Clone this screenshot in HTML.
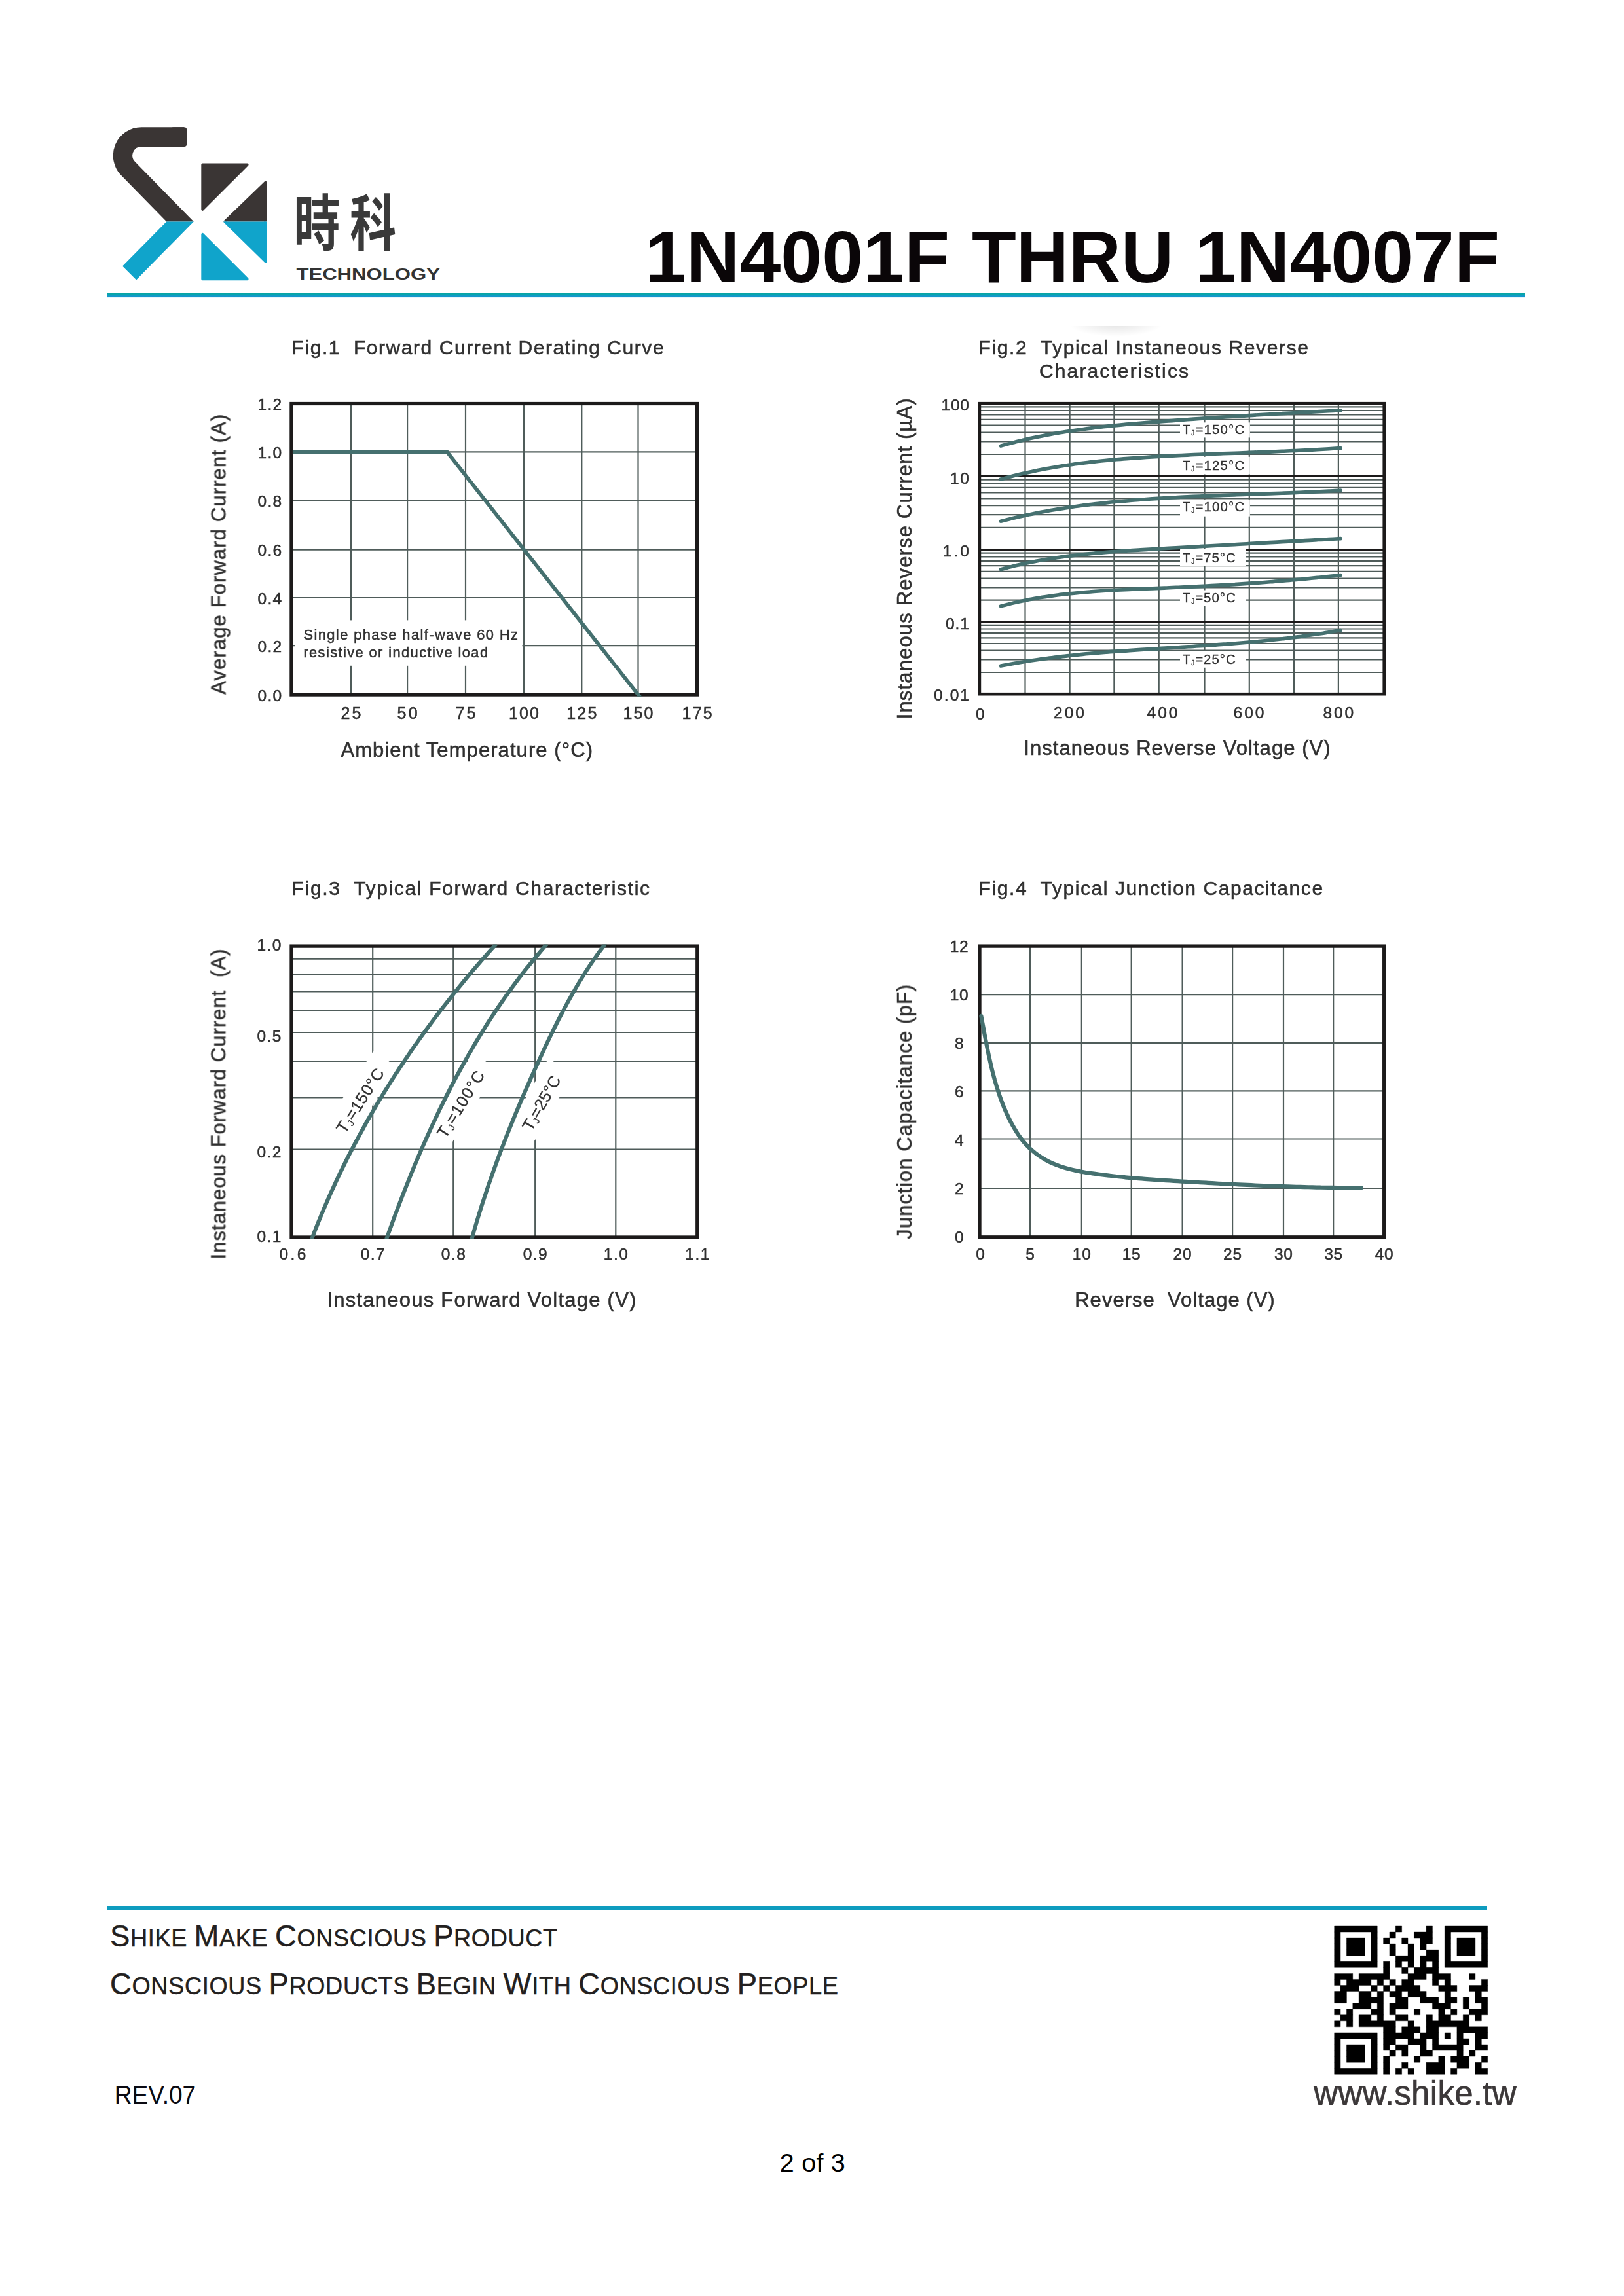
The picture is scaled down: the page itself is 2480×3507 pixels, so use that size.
<!DOCTYPE html>
<html lang="en"><head><meta charset="utf-8"><title>1N4001F THRU 1N4007F</title>
<style>
html,body{margin:0;padding:0;background:#fff}
svg{display:block}
text{font-family:"Liberation Sans", sans-serif;fill:#303030}
.c text{stroke:#303030;stroke-width:.55px}
</style></head><body>
<svg width="2480" height="3507" viewBox="0 0 2480 3507">
<rect width="2480" height="3507" fill="#fff"/>
<defs><clipPath id="ctop"><rect x="150" y="180" width="300" height="158.5"/></clipPath><clipPath id="cbot"><rect x="150" y="338.5" width="300" height="120"/></clipPath></defs>
<g clip-path="url(#ctop)"><path d="M281,209.1 L216,209.1 A28.5,28.5 0 0 0 195.9,257.8 L275,338.5 L197.6,417" fill="none" stroke="#3a3534" stroke-width="29.6" stroke-linejoin="miter" stroke-miterlimit="10"/><rect x="261" y="194.3" width="24.2" height="29.6" rx="4" fill="#3a3534"/><g fill="#3a3534" stroke="#3a3534" stroke-width="4" stroke-linejoin="round"><polygon points="309.3,251.6 377.6,251.6 309.3,319.9"/><polygon points="405.4,278.6 405.4,399.4 343.4,338.5"/><polygon points="309.3,357.8 309.3,426.2 377.6,426.2"/></g></g>
<g clip-path="url(#cbot)"><path d="M281,209.1 L216,209.1 A28.5,28.5 0 0 0 195.9,257.8 L275,338.5 L197.6,417" fill="none" stroke="#10a4cb" stroke-width="29.6" stroke-linejoin="miter" stroke-miterlimit="10"/><rect x="261" y="194.3" width="24.2" height="29.6" rx="4" fill="#10a4cb"/><g fill="#10a4cb" stroke="#10a4cb" stroke-width="4" stroke-linejoin="round"><polygon points="309.3,251.6 377.6,251.6 309.3,319.9"/><polygon points="405.4,278.6 405.4,399.4 343.4,338.5"/><polygon points="309.3,357.8 309.3,426.2 377.6,426.2"/></g></g>
<text transform="translate(448.4,375.2) scale(0.758,1)" font-size="93.5" font-weight="700" letter-spacing="19.9" style="font-family:'Liberation Sans','Noto Sans CJK TC',sans-serif;fill:#3a3a3a">時科</text>
<text x="452.4" y="427.1" font-size="23.2" textLength="219.5" lengthAdjust="spacingAndGlyphs" style="fill:#333" font-weight="700">TECHNOLOGY</text>
<text y="431" font-size="110.5" font-weight="700" style="fill:#0a0608"><tspan x="985" textLength="465" lengthAdjust="spacingAndGlyphs">1N4001F</tspan> <tspan x="1484" textLength="308" lengthAdjust="spacingAndGlyphs">THRU</tspan> <tspan x="1825" textLength="465" lengthAdjust="spacingAndGlyphs">1N4007F</tspan></text>
<defs><linearGradient id="hl" x1="0" y1="0" x2="0" y2="1"><stop offset="0" stop-color="#04a3a0"/><stop offset=".35" stop-color="#0aa5ac"/><stop offset=".7" stop-color="#1397cc"/><stop offset="1" stop-color="#1698cd"/></linearGradient></defs>
<rect x="163" y="447.2" width="2166" height="6.9" fill="url(#hl)"/>
<defs><filter id="soft" x="0" y="0" width="100%" height="100%" filterUnits="userSpaceOnUse" color-interpolation-filters="sRGB"><feGaussianBlur stdDeviation="0.75"/></filter></defs>
<g class="c" filter="url(#soft)">
<line x1="536.0" y1="616.5" x2="536.0" y2="1061.1" stroke="#4f5c5a" stroke-width="2.2"/>
<line x1="622.1" y1="616.5" x2="622.1" y2="1061.1" stroke="#4f5c5a" stroke-width="2.2"/>
<line x1="711.0" y1="616.5" x2="711.0" y2="1061.1" stroke="#4f5c5a" stroke-width="2.2"/>
<line x1="800.0" y1="616.5" x2="800.0" y2="1061.1" stroke="#4f5c5a" stroke-width="2.2"/>
<line x1="888.3" y1="616.5" x2="888.3" y2="1061.1" stroke="#4f5c5a" stroke-width="2.2"/>
<line x1="974.5" y1="616.5" x2="974.5" y2="1061.1" stroke="#4f5c5a" stroke-width="2.2"/>
<line x1="444.9" y1="690.3" x2="1064.6" y2="690.3" stroke="#4f5c5a" stroke-width="2.2"/>
<line x1="444.9" y1="764.3" x2="1064.6" y2="764.3" stroke="#4f5c5a" stroke-width="2.2"/>
<line x1="444.9" y1="839.7" x2="1064.6" y2="839.7" stroke="#4f5c5a" stroke-width="2.2"/>
<line x1="444.9" y1="913.0" x2="1064.6" y2="913.0" stroke="#4f5c5a" stroke-width="2.2"/>
<line x1="444.9" y1="986.2" x2="1064.6" y2="986.2" stroke="#4f5c5a" stroke-width="2.2"/>
<rect x="450.5" y="947.4" width="347" height="69.4" fill="#fff"/>
<rect x="444.9" y="616.5" width="619.6999999999999" height="444.5999999999999" fill="none" stroke="#1c1a1a" stroke-width="5.2"/>
<clipPath id="c1clip"><rect x="442.29999999999995" y="613.9" width="624.9" height="449.7999999999999"/></clipPath>
<polyline clip-path="url(#c1clip)" points="446.9,690.4 682.8,690.4 978.4,1066" fill="none" stroke="#45706f" stroke-width="5.7" stroke-linejoin="miter"/>
<text x="445.6" y="540.6" font-size="30" textLength="568.0" lengthAdjust="spacing" xml:space="preserve">Fig.1  Forward Current Derating Curve</text>
<text x="393.6" y="626.0" font-size="24.5" textLength="36.5" lengthAdjust="spacing">1.2</text>
<text x="393.6" y="699.8" font-size="24.5" textLength="36.5" lengthAdjust="spacing">1.0</text>
<text x="393.6" y="773.8" font-size="24.5" textLength="36.5" lengthAdjust="spacing">0.8</text>
<text x="393.6" y="849.2" font-size="24.5" textLength="36.5" lengthAdjust="spacing">0.6</text>
<text x="393.6" y="922.5" font-size="24.5" textLength="36.5" lengthAdjust="spacing">0.4</text>
<text x="393.6" y="995.7" font-size="24.5" textLength="36.5" lengthAdjust="spacing">0.2</text>
<text x="393.6" y="1070.6" font-size="24.5" textLength="36.5" lengthAdjust="spacing">0.0</text>
<text x="520.5" y="1097.5" font-size="25" textLength="31.0" lengthAdjust="spacing">25</text>
<text x="606.6" y="1097.5" font-size="25" textLength="31.0" lengthAdjust="spacing">50</text>
<text x="695.5" y="1097.5" font-size="25" textLength="31.0" lengthAdjust="spacing">75</text>
<text x="777.0" y="1097.5" font-size="25" textLength="46.0" lengthAdjust="spacing">100</text>
<text x="865.3" y="1097.5" font-size="25" textLength="46.0" lengthAdjust="spacing">125</text>
<text x="951.5" y="1097.5" font-size="25" textLength="46.0" lengthAdjust="spacing">150</text>
<text x="1041.6" y="1097.5" font-size="25" textLength="46.0" lengthAdjust="spacing">175</text>
<text x="520.4" y="1155.9" font-size="31" textLength="384.6" lengthAdjust="spacing">Ambient Temperature (°C)</text>
<text x="344.3" y="1060.8" font-size="31" textLength="428.0" lengthAdjust="spacing" transform="rotate(-90 344.3 1060.8)">Average Forward Current (A)</text>
<text x="463.4" y="977.4" font-size="21.8" textLength="327.6" lengthAdjust="spacing">Single phase half-wave 60 Hz</text>
<text x="463.4" y="1003.7" font-size="21.8" textLength="281.6" lengthAdjust="spacing">resistive or inductive load</text>
<line x1="1565.5" y1="616.2" x2="1565.5" y2="1060.2" stroke="#4f5c5a" stroke-width="2.2"/>
<line x1="1633.6" y1="616.2" x2="1633.6" y2="1060.2" stroke="#4f5c5a" stroke-width="2.2"/>
<line x1="1701.4" y1="616.2" x2="1701.4" y2="1060.2" stroke="#4f5c5a" stroke-width="2.2"/>
<line x1="1769.7" y1="616.2" x2="1769.7" y2="1060.2" stroke="#4f5c5a" stroke-width="2.2"/>
<line x1="1839.5" y1="616.2" x2="1839.5" y2="1060.2" stroke="#4f5c5a" stroke-width="2.2"/>
<line x1="1907.8" y1="616.2" x2="1907.8" y2="1060.2" stroke="#4f5c5a" stroke-width="2.2"/>
<line x1="1976.0" y1="616.2" x2="1976.0" y2="1060.2" stroke="#4f5c5a" stroke-width="2.2"/>
<line x1="2043.9" y1="616.2" x2="2043.9" y2="1060.2" stroke="#4f5c5a" stroke-width="2.2"/>
<line x1="1495.9" y1="694.0" x2="2113.7" y2="694.0" stroke="#4f5c5a" stroke-width="2.2"/>
<line x1="1495.9" y1="674.4" x2="2113.7" y2="674.4" stroke="#4f5c5a" stroke-width="2.2"/>
<line x1="1495.9" y1="660.5" x2="2113.7" y2="660.5" stroke="#4f5c5a" stroke-width="2.2"/>
<line x1="1495.9" y1="649.7" x2="2113.7" y2="649.7" stroke="#4f5c5a" stroke-width="2.2"/>
<line x1="1495.9" y1="640.9" x2="2113.7" y2="640.9" stroke="#4f5c5a" stroke-width="2.2"/>
<line x1="1495.9" y1="633.4" x2="2113.7" y2="633.4" stroke="#4f5c5a" stroke-width="2.2"/>
<line x1="1495.9" y1="627.0" x2="2113.7" y2="627.0" stroke="#4f5c5a" stroke-width="2.2"/>
<line x1="1495.9" y1="621.3" x2="2113.7" y2="621.3" stroke="#4f5c5a" stroke-width="2.2"/>
<line x1="1495.9" y1="805.9" x2="2113.7" y2="805.9" stroke="#4f5c5a" stroke-width="2.2"/>
<line x1="1495.9" y1="786.2" x2="2113.7" y2="786.2" stroke="#4f5c5a" stroke-width="2.2"/>
<line x1="1495.9" y1="772.1" x2="2113.7" y2="772.1" stroke="#4f5c5a" stroke-width="2.2"/>
<line x1="1495.9" y1="761.3" x2="2113.7" y2="761.3" stroke="#4f5c5a" stroke-width="2.2"/>
<line x1="1495.9" y1="752.4" x2="2113.7" y2="752.4" stroke="#4f5c5a" stroke-width="2.2"/>
<line x1="1495.9" y1="744.9" x2="2113.7" y2="744.9" stroke="#4f5c5a" stroke-width="2.2"/>
<line x1="1495.9" y1="738.4" x2="2113.7" y2="738.4" stroke="#4f5c5a" stroke-width="2.2"/>
<line x1="1495.9" y1="732.6" x2="2113.7" y2="732.6" stroke="#4f5c5a" stroke-width="2.2"/>
<line x1="1495.9" y1="727.5" x2="2113.7" y2="727.5" stroke="#1c1a1a" stroke-width="2.8"/>
<line x1="1495.9" y1="916.7" x2="2113.7" y2="916.7" stroke="#4f5c5a" stroke-width="2.2"/>
<line x1="1495.9" y1="897.3" x2="2113.7" y2="897.3" stroke="#4f5c5a" stroke-width="2.2"/>
<line x1="1495.9" y1="883.5" x2="2113.7" y2="883.5" stroke="#4f5c5a" stroke-width="2.2"/>
<line x1="1495.9" y1="872.8" x2="2113.7" y2="872.8" stroke="#4f5c5a" stroke-width="2.2"/>
<line x1="1495.9" y1="864.1" x2="2113.7" y2="864.1" stroke="#4f5c5a" stroke-width="2.2"/>
<line x1="1495.9" y1="856.8" x2="2113.7" y2="856.8" stroke="#4f5c5a" stroke-width="2.2"/>
<line x1="1495.9" y1="850.4" x2="2113.7" y2="850.4" stroke="#4f5c5a" stroke-width="2.2"/>
<line x1="1495.9" y1="844.7" x2="2113.7" y2="844.7" stroke="#4f5c5a" stroke-width="2.2"/>
<line x1="1495.9" y1="839.7" x2="2113.7" y2="839.7" stroke="#1c1a1a" stroke-width="2.8"/>
<line x1="1495.9" y1="1027.0" x2="2113.7" y2="1027.0" stroke="#4f5c5a" stroke-width="2.2"/>
<line x1="1495.9" y1="1007.5" x2="2113.7" y2="1007.5" stroke="#4f5c5a" stroke-width="2.2"/>
<line x1="1495.9" y1="993.7" x2="2113.7" y2="993.7" stroke="#4f5c5a" stroke-width="2.2"/>
<line x1="1495.9" y1="983.0" x2="2113.7" y2="983.0" stroke="#4f5c5a" stroke-width="2.2"/>
<line x1="1495.9" y1="974.3" x2="2113.7" y2="974.3" stroke="#4f5c5a" stroke-width="2.2"/>
<line x1="1495.9" y1="966.9" x2="2113.7" y2="966.9" stroke="#4f5c5a" stroke-width="2.2"/>
<line x1="1495.9" y1="960.5" x2="2113.7" y2="960.5" stroke="#4f5c5a" stroke-width="2.2"/>
<line x1="1495.9" y1="954.9" x2="2113.7" y2="954.9" stroke="#4f5c5a" stroke-width="2.2"/>
<line x1="1495.9" y1="949.8" x2="2113.7" y2="949.8" stroke="#1c1a1a" stroke-width="2.8"/>
<rect x="1802" y="645.3" width="106.8" height="23.1" fill="#fff"/>
<rect x="1802" y="697.8" width="106.8" height="26.7" fill="#fff"/>
<rect x="1802" y="762.9" width="106.8" height="25.8" fill="#fff"/>
<rect x="1802" y="838.0" width="100.1" height="27.0" fill="#fff"/>
<rect x="1802" y="901.5" width="100.1" height="23.9" fill="#fff"/>
<rect x="1802" y="995" width="100.1" height="24.8" fill="#fff"/>
<path d="M1528.3,681.1 C1531.2,680.3 1539.9,677.9 1545.7,676.3 C1551.5,674.8 1557.4,673.4 1563.2,672.0 C1569.1,670.6 1574.9,669.3 1580.8,668.1 C1586.7,666.8 1592.5,665.6 1598.4,664.5 C1604.3,663.4 1610.2,662.3 1616.1,661.3 C1622.0,660.3 1628.0,659.4 1633.9,658.5 C1639.8,657.6 1645.8,656.7 1651.7,655.9 C1657.6,655.1 1663.6,654.3 1669.6,653.6 C1675.5,652.8 1681.5,652.2 1687.4,651.5 C1693.4,650.8 1699.4,650.2 1705.4,649.6 C1711.3,649.0 1717.3,648.4 1723.3,647.9 C1729.3,647.3 1735.3,646.8 1741.3,646.3 C1747.3,645.8 1753.3,645.3 1759.3,644.8 C1765.3,644.3 1771.3,643.9 1777.3,643.4 C1783.3,642.9 1789.3,642.5 1795.3,642.1 C1801.3,641.6 1807.3,641.2 1813.3,640.7 C1819.3,640.3 1825.3,639.9 1831.3,639.5 C1837.3,639.1 1843.3,638.7 1849.3,638.3 C1855.3,637.9 1861.3,637.5 1867.3,637.1 C1873.3,636.7 1879.3,636.3 1885.3,636.0 C1891.3,635.6 1897.3,635.2 1903.3,634.9 C1909.3,634.5 1915.3,634.1 1921.3,633.8 C1927.3,633.4 1933.3,633.1 1939.3,632.7 C1945.3,632.4 1951.3,632.0 1957.3,631.7 C1963.3,631.4 1969.3,631.0 1975.2,630.7 C1981.2,630.3 1987.2,630.0 1993.2,629.7 C1999.2,629.4 2005.2,629.0 2011.2,628.7 C2017.2,628.4 2023.2,628.0 2029.2,627.7 C2035.2,627.4 2044.2,626.9 2047.2,626.7" fill="none" stroke="#45706f" stroke-width="5.6" stroke-linecap="round" stroke-linejoin="round"/>
<path d="M1528.3,732.0 C1531.2,731.3 1540.0,728.8 1545.8,727.3 C1551.6,725.8 1557.4,724.4 1563.3,723.1 C1569.1,721.7 1575.0,720.5 1580.9,719.2 C1586.7,718.0 1592.6,716.9 1598.5,715.8 C1604.4,714.7 1610.3,713.7 1616.2,712.7 C1622.1,711.7 1628.0,710.8 1634.0,710.0 C1639.9,709.1 1645.8,708.3 1651.8,707.5 C1657.7,706.8 1663.7,706.1 1669.6,705.4 C1675.6,704.7 1681.5,704.1 1687.5,703.5 C1693.5,702.9 1699.4,702.4 1705.4,701.8 C1711.4,701.3 1717.4,700.8 1723.3,700.4 C1729.3,699.9 1735.3,699.5 1741.3,699.1 C1747.3,698.7 1753.3,698.3 1759.3,697.9 C1765.3,697.6 1771.3,697.2 1777.3,696.9 C1783.3,696.6 1789.3,696.2 1795.3,695.9 C1801.3,695.6 1807.3,695.4 1813.3,695.1 C1819.3,694.8 1825.3,694.5 1831.3,694.3 C1837.3,694.0 1843.3,693.8 1849.3,693.5 C1855.3,693.3 1861.4,693.1 1867.4,692.8 C1873.4,692.6 1879.4,692.4 1885.4,692.2 C1891.4,691.9 1897.4,691.7 1903.4,691.5 C1909.4,691.2 1915.4,691.0 1921.4,690.8 C1927.4,690.6 1933.4,690.3 1939.4,690.1 C1945.4,689.8 1951.4,689.6 1957.4,689.3 C1963.4,689.1 1969.4,688.8 1975.4,688.5 C1981.4,688.3 1987.4,688.0 1993.3,687.7 C1999.3,687.4 2005.3,687.1 2011.3,686.7 C2017.3,686.4 2023.2,686.0 2029.2,685.7 C2035.2,685.3 2044.1,684.7 2047.1,684.5" fill="none" stroke="#45706f" stroke-width="5.6" stroke-linecap="round" stroke-linejoin="round"/>
<path d="M1528.3,796.2 C1531.2,795.5 1540.0,793.2 1545.8,791.8 C1551.6,790.4 1557.5,789.0 1563.3,787.7 C1569.2,786.4 1575.1,785.2 1581.0,784.0 C1586.8,782.8 1592.7,781.7 1598.6,780.7 C1604.5,779.6 1610.4,778.6 1616.3,777.6 C1622.2,776.6 1628.2,775.7 1634.1,774.8 C1640.0,773.9 1645.9,773.1 1651.9,772.3 C1657.8,771.5 1663.8,770.8 1669.7,770.1 C1675.7,769.4 1681.6,768.7 1687.6,768.1 C1693.5,767.4 1699.5,766.8 1705.5,766.3 C1711.4,765.7 1717.4,765.2 1723.4,764.7 C1729.4,764.1 1735.4,763.7 1741.3,763.2 C1747.3,762.8 1753.3,762.3 1759.3,761.9 C1765.3,761.5 1771.3,761.2 1777.3,760.8 C1783.3,760.4 1789.3,760.1 1795.3,759.8 C1801.3,759.4 1807.3,759.1 1813.3,758.8 C1819.3,758.5 1825.3,758.3 1831.3,758.0 C1837.3,757.7 1843.3,757.5 1849.3,757.2 C1855.3,757.0 1861.3,756.8 1867.3,756.5 C1873.4,756.3 1879.4,756.1 1885.4,755.9 C1891.4,755.6 1897.4,755.4 1903.4,755.2 C1909.4,755.0 1915.4,754.8 1921.4,754.6 C1927.4,754.4 1933.4,754.1 1939.4,753.9 C1945.4,753.7 1951.4,753.5 1957.4,753.3 C1963.4,753.0 1969.4,752.8 1975.4,752.6 C1981.4,752.3 1987.4,752.1 1993.4,751.8 C1999.3,751.5 2005.3,751.3 2011.3,751.0 C2017.3,750.7 2023.3,750.4 2029.2,750.1 C2035.2,749.8 2044.1,749.2 2047.1,749.1" fill="none" stroke="#45706f" stroke-width="5.6" stroke-linecap="round" stroke-linejoin="round"/>
<path d="M1528.4,869.7 C1531.3,869.0 1540.0,866.6 1545.8,865.1 C1551.6,863.7 1557.4,862.3 1563.3,861.0 C1569.1,859.7 1575.0,858.5 1580.9,857.4 C1586.8,856.3 1592.6,855.2 1598.5,854.2 C1604.4,853.3 1610.4,852.3 1616.3,851.5 C1622.2,850.6 1628.1,849.8 1634.1,849.1 C1640.0,848.3 1645.9,847.6 1651.9,847.0 C1657.9,846.3 1663.8,845.7 1669.8,845.2 C1675.8,844.6 1681.7,844.1 1687.7,843.6 C1693.7,843.1 1699.7,842.7 1705.7,842.2 C1711.6,841.8 1717.6,841.4 1723.6,841.0 C1729.6,840.6 1735.6,840.2 1741.6,839.9 C1747.6,839.5 1753.6,839.2 1759.6,838.8 C1765.6,838.5 1771.6,838.1 1777.6,837.8 C1783.6,837.4 1789.6,837.1 1795.6,836.8 C1801.6,836.4 1807.6,836.1 1813.6,835.7 C1819.6,835.4 1825.6,835.1 1831.6,834.7 C1837.6,834.4 1843.6,834.0 1849.5,833.7 C1855.5,833.4 1861.5,833.0 1867.5,832.7 C1873.5,832.3 1879.5,832.0 1885.5,831.7 C1891.5,831.3 1897.5,831.0 1903.5,830.7 C1909.5,830.3 1915.4,830.0 1921.4,829.7 C1927.4,829.3 1933.4,829.0 1939.4,828.6 C1945.4,828.3 1951.4,828.0 1957.4,827.6 C1963.4,827.3 1969.3,827.0 1975.3,826.6 C1981.3,826.3 1987.3,826.0 1993.3,825.6 C1999.3,825.3 2005.3,825.0 2011.3,824.6 C2017.2,824.3 2023.2,824.0 2029.2,823.6 C2035.2,823.3 2044.2,822.8 2047.2,822.6" fill="none" stroke="#45706f" stroke-width="5.6" stroke-linecap="round" stroke-linejoin="round"/>
<path d="M1528.4,925.9 C1531.3,925.2 1540.1,922.8 1545.9,921.4 C1551.8,920.0 1557.6,918.7 1563.5,917.5 C1569.4,916.3 1575.2,915.2 1581.1,914.1 C1587.0,913.1 1592.9,912.1 1598.9,911.3 C1604.8,910.4 1610.7,909.6 1616.6,908.8 C1622.6,908.0 1628.5,907.4 1634.4,906.7 C1640.4,906.1 1646.4,905.5 1652.3,905.0 C1658.3,904.5 1664.2,904.0 1670.2,903.5 C1676.2,903.1 1682.2,902.7 1688.1,902.3 C1694.1,902.0 1700.1,901.6 1706.1,901.3 C1712.1,901.0 1718.1,900.7 1724.1,900.4 C1730.1,900.1 1736.1,899.9 1742.1,899.6 C1748.1,899.4 1754.1,899.1 1760.1,898.9 C1766.1,898.6 1772.1,898.4 1778.0,898.1 C1784.0,897.9 1790.0,897.6 1796.0,897.3 C1802.0,897.1 1808.0,896.8 1814.0,896.5 C1820.0,896.2 1826.0,895.9 1832.0,895.6 C1838.0,895.3 1844.0,895.0 1850.0,894.6 C1856.0,894.3 1861.9,894.0 1867.9,893.6 C1873.9,893.3 1879.9,892.9 1885.9,892.6 C1891.9,892.2 1897.9,891.8 1903.8,891.4 C1909.8,891.0 1915.8,890.6 1921.8,890.2 C1927.8,889.7 1933.7,889.3 1939.7,888.8 C1945.7,888.4 1951.7,887.9 1957.7,887.4 C1963.6,886.9 1969.6,886.4 1975.6,885.8 C1981.5,885.3 1987.5,884.8 1993.5,884.2 C1999.5,883.6 2005.4,883.0 2011.4,882.4 C2017.3,881.8 2023.3,881.2 2029.3,880.5 C2035.2,879.9 2044.2,878.8 2047.2,878.5" fill="none" stroke="#45706f" stroke-width="5.6" stroke-linecap="round" stroke-linejoin="round"/>
<path d="M1528.5,1017.1 C1531.4,1016.5 1540.3,1014.8 1546.2,1013.7 C1552.1,1012.7 1558.0,1011.7 1563.9,1010.7 C1569.8,1009.7 1575.7,1008.8 1581.7,1008.0 C1587.6,1007.1 1593.5,1006.3 1599.5,1005.5 C1605.4,1004.7 1611.4,1004.0 1617.3,1003.3 C1623.3,1002.5 1629.2,1001.9 1635.2,1001.2 C1641.1,1000.6 1647.1,1000.0 1653.1,999.4 C1659.0,998.8 1665.0,998.3 1671.0,997.8 C1676.9,997.2 1682.9,996.7 1688.9,996.3 C1694.9,995.8 1700.8,995.3 1706.8,994.9 C1712.8,994.4 1718.8,994.0 1724.8,993.6 C1730.8,993.2 1736.8,992.8 1742.7,992.4 C1748.7,992.0 1754.7,991.6 1760.7,991.2 C1766.7,990.9 1772.7,990.5 1778.7,990.1 C1784.7,989.7 1790.7,989.4 1796.6,989.0 C1802.6,988.6 1808.6,988.2 1814.6,987.8 C1820.6,987.5 1826.6,987.1 1832.6,986.7 C1838.6,986.3 1844.6,985.9 1850.5,985.4 C1856.5,985.0 1862.5,984.6 1868.5,984.1 C1874.5,983.7 1880.5,983.2 1886.4,982.7 C1892.4,982.2 1898.4,981.7 1904.4,981.2 C1910.3,980.7 1916.3,980.1 1922.3,979.6 C1928.3,979.0 1934.2,978.4 1940.2,977.8 C1946.2,977.1 1952.1,976.5 1958.1,975.8 C1964.0,975.1 1970.0,974.4 1975.9,973.6 C1981.9,972.8 1987.8,972.1 1993.8,971.2 C1999.7,970.4 2005.7,969.5 2011.6,968.6 C2017.5,967.7 2023.5,966.7 2029.4,965.7 C2035.3,964.7 2044.2,963.1 2047.1,962.6" fill="none" stroke="#45706f" stroke-width="5.6" stroke-linecap="round" stroke-linejoin="round"/>
<rect x="1495.9" y="616.2" width="617.7999999999997" height="444.0" fill="none" stroke="#1c1a1a" stroke-width="4.6"/>
<text x="1805.7" y="663.4" font-size="20.5" textLength="94.5" lengthAdjust="spacing" style="stroke-width:.3px">T<tspan font-size="10" dy="2">J</tspan><tspan dy="-2">=150°C</tspan></text>
<text x="1805.7" y="718.4" font-size="20.5" textLength="94.5" lengthAdjust="spacing" style="stroke-width:.3px">T<tspan font-size="10" dy="2">J</tspan><tspan dy="-2">=125°C</tspan></text>
<text x="1805.7" y="781.0" font-size="20.5" textLength="94.5" lengthAdjust="spacing" style="stroke-width:.3px">T<tspan font-size="10" dy="2">J</tspan><tspan dy="-2">=100°C</tspan></text>
<text x="1805.7" y="859.3" font-size="20.5" textLength="81.1" lengthAdjust="spacing" style="stroke-width:.3px">T<tspan font-size="10" dy="2">J</tspan><tspan dy="-2">=75°C</tspan></text>
<text x="1805.7" y="920.0" font-size="20.5" textLength="81.1" lengthAdjust="spacing" style="stroke-width:.3px">T<tspan font-size="10" dy="2">J</tspan><tspan dy="-2">=50°C</tspan></text>
<text x="1805.7" y="1013.5" font-size="20.5" textLength="81.1" lengthAdjust="spacing" style="stroke-width:.3px">T<tspan font-size="10" dy="2">J</tspan><tspan dy="-2">=25°C</tspan></text>
<text x="1494.5" y="540.6" font-size="30" textLength="503.5" lengthAdjust="spacing" xml:space="preserve">Fig.2  Typical Instaneous Reverse</text>
<text x="1587.0" y="576.8" font-size="30" textLength="228.0" lengthAdjust="spacing">Characteristics</text>
<text x="1437.6" y="626.8" font-size="24.5" textLength="42.4" lengthAdjust="spacing">100</text>
<text x="1451.0" y="738.9" font-size="24.5" textLength="29.0" lengthAdjust="spacing">10</text>
<text x="1439.8" y="849.5" font-size="24.5" textLength="40.2" lengthAdjust="spacing">1.0</text>
<text x="1444.0" y="961.0" font-size="24.5" textLength="36.0" lengthAdjust="spacing">0.1</text>
<text x="1426.0" y="1069.5" font-size="24.5" textLength="54.0" lengthAdjust="spacing">0.01</text>
<text x="1490.0" y="1099.0" font-size="24.5" textLength="13.5" lengthAdjust="spacing">0</text>
<text x="1609.1" y="1097.0" font-size="24.5" textLength="46.8" lengthAdjust="spacing">200</text>
<text x="1751.6" y="1097.0" font-size="24.5" textLength="46.8" lengthAdjust="spacing">400</text>
<text x="1883.6" y="1097.0" font-size="24.5" textLength="46.8" lengthAdjust="spacing">600</text>
<text x="2020.4" y="1097.0" font-size="24.5" textLength="46.8" lengthAdjust="spacing">800</text>
<text x="1563.2" y="1152.5" font-size="31" textLength="468.4" lengthAdjust="spacing">Instaneous Reverse Voltage (V)</text>
<text x="1392.3" y="1098.3" font-size="31" textLength="490.0" lengthAdjust="spacing" transform="rotate(-90 1392.3 1098.3)">Instaneous Reverse Current (µA)</text>
<defs><radialGradient id="shg" cx="0.5" cy="0.5" r="0.5"><stop offset="0" stop-color="#000" stop-opacity=".11"/><stop offset="1" stop-color="#000" stop-opacity="0"/></radialGradient><clipPath id="shc"><rect x="1600" y="498" width="220" height="40"/></clipPath></defs>
<ellipse cx="1704" cy="494" rx="72" ry="20" fill="url(#shg)" clip-path="url(#shc)"/>
<line x1="569.2" y1="1445.1" x2="569.2" y2="1890.0" stroke="#4f5c5a" stroke-width="2.2"/>
<line x1="692.3" y1="1445.1" x2="692.3" y2="1890.0" stroke="#4f5c5a" stroke-width="2.2"/>
<line x1="817.2" y1="1445.1" x2="817.2" y2="1890.0" stroke="#4f5c5a" stroke-width="2.2"/>
<line x1="940.3" y1="1445.1" x2="940.3" y2="1890.0" stroke="#4f5c5a" stroke-width="2.2"/>
<line x1="445.0" y1="1464.6" x2="1064.8" y2="1464.6" stroke="#4f5c5a" stroke-width="2.2"/>
<line x1="445.0" y1="1488.3" x2="1064.8" y2="1488.3" stroke="#4f5c5a" stroke-width="2.2"/>
<line x1="445.0" y1="1514.5" x2="1064.8" y2="1514.5" stroke="#4f5c5a" stroke-width="2.2"/>
<line x1="445.0" y1="1543.0" x2="1064.8" y2="1543.0" stroke="#4f5c5a" stroke-width="2.2"/>
<line x1="445.0" y1="1577.0" x2="1064.8" y2="1577.0" stroke="#4f5c5a" stroke-width="2.2"/>
<line x1="445.0" y1="1621.0" x2="1064.8" y2="1621.0" stroke="#4f5c5a" stroke-width="2.2"/>
<line x1="445.0" y1="1676.3" x2="1064.8" y2="1676.3" stroke="#4f5c5a" stroke-width="2.2"/>
<line x1="445.0" y1="1755.6" x2="1064.8" y2="1755.6" stroke="#4f5c5a" stroke-width="2.2"/>
<rect x="517.8" y="1699.8" width="139" height="44" fill="#fff" transform="rotate(-57 526.8 1732.8)"/>
<rect x="671.5" y="1707" width="142" height="44" fill="#fff" transform="rotate(-58.3 680.5 1740)"/>
<rect x="802.5" y="1696" width="119" height="44" fill="#fff" transform="rotate(-60.3 811.5 1729)"/>
<rect x="445.0" y="1445.1" width="619.8" height="444.9000000000001" fill="none" stroke="#1c1a1a" stroke-width="5.3"/>
<clipPath id="c3clip"><rect x="442.35" y="1442.4499999999998" width="625.0999999999999" height="450.2000000000001"/></clipPath>
<g clip-path="url(#c3clip)">
<path d="M475.8,1893.2 C476.9,1890.3 480.2,1881.6 482.5,1875.9 C484.7,1870.2 487.1,1864.5 489.4,1858.8 C491.8,1853.1 494.1,1847.4 496.6,1841.7 C499.0,1836.1 501.5,1830.4 504.0,1824.8 C506.5,1819.2 509.1,1813.6 511.7,1808.0 C514.2,1802.4 516.9,1796.9 519.5,1791.3 C522.2,1785.8 524.9,1780.3 527.7,1774.7 C530.4,1769.2 533.2,1763.8 536.0,1758.3 C538.8,1752.8 541.7,1747.4 544.6,1742.0 C547.5,1736.5 550.4,1731.1 553.4,1725.7 C556.3,1720.4 559.3,1715.0 562.4,1709.6 C565.4,1704.3 568.5,1699.0 571.6,1693.7 C574.7,1688.4 577.8,1683.1 581.0,1677.8 C584.2,1672.6 587.4,1667.3 590.7,1662.1 C593.9,1656.9 597.2,1651.7 600.5,1646.5 C603.8,1641.3 607.2,1636.1 610.5,1631.0 C613.9,1625.9 617.3,1620.7 620.8,1615.7 C624.2,1610.6 627.7,1605.5 631.2,1600.4 C634.7,1595.4 638.3,1590.3 641.8,1585.3 C645.4,1580.3 649.0,1575.3 652.6,1570.4 C656.3,1565.4 659.9,1560.5 663.6,1555.5 C667.3,1550.6 671.1,1545.7 674.8,1540.8 C678.6,1536.0 682.4,1531.1 686.2,1526.3 C690.0,1521.4 693.8,1516.6 697.7,1511.8 C701.6,1507.1 705.5,1502.3 709.4,1497.5 C713.3,1492.8 717.3,1488.1 721.2,1483.4 C725.2,1478.7 729.2,1474.0 733.3,1469.4 C737.3,1464.7 741.4,1460.1 745.5,1455.5 C749.5,1450.9 755.7,1444.0 757.8,1441.7" fill="none" stroke="#45706f" stroke-width="6" stroke-linecap="butt" stroke-linejoin="round"/>
<path d="M590.1,1892.9 C591.0,1890.1 594.0,1881.7 596.0,1876.2 C598.0,1870.6 600.1,1865.0 602.1,1859.5 C604.2,1853.9 606.3,1848.3 608.4,1842.8 C610.5,1837.2 612.6,1831.7 614.7,1826.2 C616.9,1820.6 619.1,1815.1 621.3,1809.6 C623.5,1804.0 625.7,1798.5 627.9,1793.0 C630.2,1787.5 632.4,1782.0 634.7,1776.5 C637.0,1771.0 639.4,1765.6 641.7,1760.1 C644.1,1754.6 646.5,1749.2 648.9,1743.7 C651.3,1738.3 653.7,1732.9 656.2,1727.5 C658.6,1722.0 661.1,1716.6 663.7,1711.3 C666.2,1705.9 668.8,1700.5 671.3,1695.1 C673.9,1689.8 676.6,1684.4 679.2,1679.1 C681.9,1673.8 684.6,1668.5 687.3,1663.2 C690.0,1657.9 692.7,1652.6 695.5,1647.4 C698.3,1642.1 701.1,1636.9 704.0,1631.7 C706.9,1626.5 709.8,1621.3 712.7,1616.1 C715.6,1611.0 718.6,1605.8 721.6,1600.7 C724.6,1595.6 727.6,1590.5 730.7,1585.4 C733.8,1580.3 736.9,1575.3 740.1,1570.3 C743.2,1565.2 746.4,1560.2 749.6,1555.2 C752.9,1550.3 756.2,1545.3 759.5,1540.4 C762.8,1535.5 766.2,1530.6 769.6,1525.7 C773.0,1520.9 776.4,1516.0 779.9,1511.2 C783.4,1506.4 786.9,1501.6 790.5,1496.9 C794.0,1492.1 797.7,1487.4 801.3,1482.7 C805.0,1478.1 808.7,1473.4 812.5,1468.8 C816.2,1464.2 820.0,1459.6 823.9,1455.0 C827.7,1450.5 833.6,1443.7 835.5,1441.5" fill="none" stroke="#45706f" stroke-width="6" stroke-linecap="butt" stroke-linejoin="round"/>
<path d="M720.4,1892.9 C721.1,1890.1 723.4,1881.9 725.0,1876.4 C726.6,1870.9 728.3,1865.4 729.9,1859.9 C731.6,1854.5 733.3,1849.0 735.0,1843.5 C736.7,1838.1 738.5,1832.7 740.3,1827.2 C742.1,1821.8 743.9,1816.4 745.7,1810.9 C747.6,1805.5 749.5,1800.1 751.4,1794.7 C753.3,1789.3 755.2,1783.9 757.2,1778.6 C759.1,1773.2 761.1,1767.8 763.1,1762.4 C765.2,1757.1 767.2,1751.7 769.3,1746.4 C771.3,1741.0 773.4,1735.7 775.5,1730.4 C777.7,1725.1 779.8,1719.7 782.0,1714.4 C784.1,1709.1 786.3,1703.8 788.5,1698.5 C790.7,1693.2 792.9,1687.9 795.2,1682.7 C797.4,1677.4 799.7,1672.1 802.0,1666.8 C804.3,1661.6 806.6,1656.3 808.9,1651.1 C811.2,1645.8 813.6,1640.6 815.9,1635.4 C818.3,1630.1 820.7,1624.9 823.1,1619.7 C825.5,1614.5 827.9,1609.3 830.3,1604.1 C832.7,1598.9 835.2,1593.7 837.6,1588.5 C840.1,1583.4 842.6,1578.2 845.1,1573.1 C847.7,1567.9 850.2,1562.8 852.8,1557.7 C855.4,1552.6 858.1,1547.5 860.8,1542.5 C863.4,1537.4 866.2,1532.4 868.9,1527.4 C871.7,1522.4 874.5,1517.4 877.4,1512.5 C880.2,1507.5 883.1,1502.6 886.1,1497.7 C889.1,1492.8 892.1,1488.0 895.2,1483.2 C898.3,1478.4 901.4,1473.6 904.7,1468.9 C907.9,1464.2 911.2,1459.5 914.5,1454.8 C917.9,1450.2 923.1,1443.3 924.8,1441.0" fill="none" stroke="#45706f" stroke-width="6" stroke-linecap="butt" stroke-linejoin="round"/>
</g>
<text x="526.8" y="1732.8" font-size="25" textLength="112.0" lengthAdjust="spacing" transform="rotate(-57 526.8 1732.8)" style="stroke-width:.3px">T<tspan font-size="14" dy="3">J</tspan><tspan dy="-3">=150°C</tspan></text>
<text x="680.5" y="1740.0" font-size="25" textLength="115.0" lengthAdjust="spacing" transform="rotate(-58.3 680.5 1740.0)" style="stroke-width:.3px">T<tspan font-size="14" dy="3">J</tspan><tspan dy="-3">=100°C</tspan></text>
<text x="811.5" y="1729.0" font-size="25" textLength="92.0" lengthAdjust="spacing" transform="rotate(-60.3 811.5 1729.0)" style="stroke-width:.3px">T<tspan font-size="14" dy="3">J</tspan><tspan dy="-3">=25°C</tspan></text>
<text x="445.6" y="1367.0" font-size="30" textLength="546.5" lengthAdjust="spacing" xml:space="preserve">Fig.3  Typical Forward Characteristic</text>
<text x="392.5" y="1452.0" font-size="24.5" textLength="37.0" lengthAdjust="spacing">1.0</text>
<text x="392.5" y="1591.0" font-size="24.5" textLength="37.0" lengthAdjust="spacing">0.5</text>
<text x="392.5" y="1767.5" font-size="24.5" textLength="37.0" lengthAdjust="spacing">0.2</text>
<text x="392.5" y="1897.0" font-size="24.5" textLength="37.0" lengthAdjust="spacing">0.1</text>
<text x="426.5" y="1924.0" font-size="24.5" textLength="41.0" lengthAdjust="spacing">0.6</text>
<text x="550.7" y="1924.0" font-size="24.5" textLength="37.0" lengthAdjust="spacing">0.7</text>
<text x="673.8" y="1924.0" font-size="24.5" textLength="37.0" lengthAdjust="spacing">0.8</text>
<text x="798.7" y="1924.0" font-size="24.5" textLength="37.0" lengthAdjust="spacing">0.9</text>
<text x="921.8" y="1924.0" font-size="24.5" textLength="37.0" lengthAdjust="spacing">1.0</text>
<text x="1046.3" y="1924.0" font-size="24.5" textLength="37.0" lengthAdjust="spacing">1.1</text>
<text x="499.4" y="1995.5" font-size="31" textLength="472.0" lengthAdjust="spacing">Instaneous Forward Voltage (V)</text>
<text x="343.8" y="1923.5" font-size="31" textLength="474.0" lengthAdjust="spacing" transform="rotate(-90 343.8 1923.5)" xml:space="preserve">Instaneous Forward Current  (A)</text>
<line x1="1573.0" y1="1445.1" x2="1573.0" y2="1889.8" stroke="#4f5c5a" stroke-width="2.2"/>
<line x1="1651.8" y1="1445.1" x2="1651.8" y2="1889.8" stroke="#4f5c5a" stroke-width="2.2"/>
<line x1="1727.7" y1="1445.1" x2="1727.7" y2="1889.8" stroke="#4f5c5a" stroke-width="2.2"/>
<line x1="1805.6" y1="1445.1" x2="1805.6" y2="1889.8" stroke="#4f5c5a" stroke-width="2.2"/>
<line x1="1882.1" y1="1445.1" x2="1882.1" y2="1889.8" stroke="#4f5c5a" stroke-width="2.2"/>
<line x1="1960.0" y1="1445.1" x2="1960.0" y2="1889.8" stroke="#4f5c5a" stroke-width="2.2"/>
<line x1="2036.2" y1="1445.1" x2="2036.2" y2="1889.8" stroke="#4f5c5a" stroke-width="2.2"/>
<line x1="1496.0" y1="1519.2" x2="2113.7" y2="1519.2" stroke="#4f5c5a" stroke-width="2.2"/>
<line x1="1496.0" y1="1593.1" x2="2113.7" y2="1593.1" stroke="#4f5c5a" stroke-width="2.2"/>
<line x1="1496.0" y1="1666.3" x2="2113.7" y2="1666.3" stroke="#4f5c5a" stroke-width="2.2"/>
<line x1="1496.0" y1="1739.5" x2="2113.7" y2="1739.5" stroke="#4f5c5a" stroke-width="2.2"/>
<line x1="1496.0" y1="1815.0" x2="2113.7" y2="1815.0" stroke="#4f5c5a" stroke-width="2.2"/>
<rect x="1496.0" y="1445.1" width="617.6999999999998" height="444.70000000000005" fill="none" stroke="#1c1a1a" stroke-width="5.3"/>
<path d="M1498.4,1551.9 C1498.7,1553.9 1499.9,1560.0 1500.6,1564.0 C1501.4,1568.1 1502.1,1572.1 1502.9,1576.2 C1503.6,1580.2 1504.4,1584.3 1505.2,1588.4 C1506.0,1592.4 1506.8,1596.5 1507.6,1600.6 C1508.4,1604.6 1509.2,1608.7 1510.1,1612.8 C1511.0,1616.8 1511.9,1620.9 1512.8,1624.9 C1513.7,1629.0 1514.7,1633.0 1515.7,1637.1 C1516.8,1641.1 1517.8,1645.1 1518.9,1649.1 C1520.1,1653.2 1521.2,1657.2 1522.5,1661.1 C1523.7,1665.1 1525.0,1669.1 1526.3,1673.0 C1527.7,1677.0 1529.1,1680.9 1530.6,1684.8 C1532.1,1688.7 1533.7,1692.6 1535.4,1696.5 C1537.0,1700.3 1538.8,1704.2 1540.6,1707.9 C1542.4,1711.7 1544.4,1715.5 1546.4,1719.1 C1548.5,1722.8 1550.6,1726.4 1552.9,1729.9 C1555.1,1733.4 1557.5,1736.8 1560.0,1740.0 C1562.5,1743.3 1565.2,1746.4 1568.0,1749.4 C1570.8,1752.4 1573.7,1755.2 1576.8,1757.8 C1579.8,1760.5 1583.1,1763.0 1586.4,1765.3 C1589.8,1767.6 1593.2,1769.7 1596.8,1771.7 C1600.4,1773.7 1604.0,1775.5 1607.8,1777.1 C1611.6,1778.8 1615.4,1780.2 1619.3,1781.6 C1623.2,1782.9 1627.2,1784.1 1631.3,1785.2 C1635.3,1786.3 1639.4,1787.2 1643.5,1788.1 C1647.6,1789.0 1651.8,1789.8 1656.0,1790.5 C1660.1,1791.2 1664.3,1791.8 1668.5,1792.4 C1672.7,1793.0 1676.9,1793.6 1681.1,1794.1 C1685.3,1794.7 1689.5,1795.2 1693.6,1795.6 C1697.8,1796.1 1701.9,1796.6 1706.1,1797.0 C1710.2,1797.5 1714.4,1797.9 1718.5,1798.3 C1722.7,1798.7 1726.8,1799.0 1730.9,1799.4 C1735.0,1799.8 1739.2,1800.1 1743.3,1800.4 C1747.4,1800.8 1751.5,1801.1 1755.6,1801.4 C1759.7,1801.7 1763.8,1802.0 1768.0,1802.2 C1772.1,1802.5 1776.2,1802.8 1780.3,1803.1 C1784.4,1803.3 1788.5,1803.6 1792.6,1803.8 C1796.7,1804.1 1800.9,1804.3 1805.0,1804.6 C1809.1,1804.8 1813.2,1805.1 1817.3,1805.3 C1821.5,1805.5 1825.6,1805.8 1829.7,1806.0 C1833.9,1806.3 1838.0,1806.5 1842.2,1806.7 C1846.3,1807.0 1850.4,1807.2 1854.6,1807.4 C1858.7,1807.6 1862.9,1807.9 1867.0,1808.1 C1871.2,1808.3 1875.3,1808.5 1879.5,1808.7 C1883.6,1808.9 1887.8,1809.1 1891.9,1809.3 C1896.1,1809.5 1900.2,1809.7 1904.4,1809.9 C1908.6,1810.1 1912.7,1810.3 1916.9,1810.5 C1921.0,1810.7 1925.2,1810.8 1929.4,1811.0 C1933.5,1811.2 1937.7,1811.4 1941.9,1811.5 C1946.0,1811.7 1950.2,1811.8 1954.3,1812.0 C1958.5,1812.1 1962.7,1812.3 1966.8,1812.4 C1971.0,1812.5 1975.2,1812.7 1979.3,1812.8 C1983.5,1812.9 1987.6,1813.0 1991.8,1813.1 C1996.0,1813.2 2000.1,1813.3 2004.3,1813.4 C2008.4,1813.5 2012.6,1813.6 2016.7,1813.7 C2020.9,1813.7 2025.0,1813.8 2029.2,1813.9 C2033.3,1813.9 2037.5,1814.0 2041.6,1814.0 C2045.8,1814.1 2049.9,1814.1 2054.0,1814.1 C2058.2,1814.1 2062.3,1814.2 2066.4,1814.2 C2070.6,1814.2 2076.8,1814.2 2078.8,1814.2" fill="none" stroke="#45706f" stroke-width="6.2" stroke-linecap="round" stroke-linejoin="round"/>
<text x="1494.6" y="1367.0" font-size="30" textLength="525.5" lengthAdjust="spacing" xml:space="preserve">Fig.4  Typical Junction Capacitance</text>
<text x="1450.7" y="1454.0" font-size="24.5" textLength="28.0" lengthAdjust="spacing">12</text>
<text x="1450.7" y="1528.0" font-size="24.5" textLength="28.0" lengthAdjust="spacing">10</text>
<text x="1458.0" y="1601.9" font-size="24.5" textLength="13.5" lengthAdjust="spacing">8</text>
<text x="1458.0" y="1675.8" font-size="24.5" textLength="13.5" lengthAdjust="spacing">6</text>
<text x="1458.0" y="1749.8" font-size="24.5" textLength="13.5" lengthAdjust="spacing">4</text>
<text x="1458.0" y="1823.8" font-size="24.5" textLength="13.5" lengthAdjust="spacing">2</text>
<text x="1458.0" y="1897.7" font-size="24.5" textLength="13.5" lengthAdjust="spacing">0</text>
<text x="1490.2" y="1924.0" font-size="24.5" textLength="13.5" lengthAdjust="spacing">0</text>
<text x="1566.2" y="1924.0" font-size="24.5" textLength="13.5" lengthAdjust="spacing">5</text>
<text x="1637.8" y="1924.0" font-size="24.5" textLength="28.0" lengthAdjust="spacing">10</text>
<text x="1713.7" y="1924.0" font-size="24.5" textLength="28.0" lengthAdjust="spacing">15</text>
<text x="1791.6" y="1924.0" font-size="24.5" textLength="28.0" lengthAdjust="spacing">20</text>
<text x="1868.1" y="1924.0" font-size="24.5" textLength="28.0" lengthAdjust="spacing">25</text>
<text x="1946.0" y="1924.0" font-size="24.5" textLength="28.0" lengthAdjust="spacing">30</text>
<text x="2022.2" y="1924.0" font-size="24.5" textLength="28.0" lengthAdjust="spacing">35</text>
<text x="2099.7" y="1924.0" font-size="24.5" textLength="28.0" lengthAdjust="spacing">40</text>
<text x="1641.2" y="1995.5" font-size="31" textLength="305.5" lengthAdjust="spacing" xml:space="preserve">Reverse  Voltage (V)</text>
<text x="1391.8" y="1892.8" font-size="31" textLength="389.0" lengthAdjust="spacing" transform="rotate(-90 1391.8 1892.8)">Junction Capacitance (pF)</text>
</g>
<rect x="163" y="2911" width="2108" height="6.9" fill="#0e9cbf"/>
<text x="168.0" y="2973.3" font-size="36.2" textLength="683" lengthAdjust="spacing" xml:space="preserve" style="fill:#231f20;stroke:#231f20;stroke-width:.45px"><tspan font-size="45.5">S</tspan><tspan font-size="36.2">HIKE</tspan> <tspan font-size="45.5">M</tspan><tspan font-size="36.2">AKE</tspan> <tspan font-size="45.5">C</tspan><tspan font-size="36.2">ONSCIOUS</tspan> <tspan font-size="45.5">P</tspan><tspan font-size="36.2">RODUCT</tspan></text>
<text x="168.0" y="3046.4" font-size="36.2" textLength="1112" lengthAdjust="spacing" xml:space="preserve" style="fill:#231f20;stroke:#231f20;stroke-width:.45px"><tspan font-size="45.5">C</tspan><tspan font-size="36.2">ONSCIOUS</tspan> <tspan font-size="45.5">P</tspan><tspan font-size="36.2">RODUCTS</tspan> <tspan font-size="45.5">B</tspan><tspan font-size="36.2">EGIN</tspan> <tspan font-size="45.5">W</tspan><tspan font-size="36.2">ITH</tspan> <tspan font-size="45.5">C</tspan><tspan font-size="36.2">ONSCIOUS</tspan> <tspan font-size="45.5">P</tspan><tspan font-size="36.2">EOPLE</tspan></text>
<text x="174.8" y="3212.8" font-size="39.2" textLength="124.4" lengthAdjust="spacingAndGlyphs" style="fill:#0a0a12">REV.07</text>
<text x="1190.8" y="3316.9" font-size="39.5" textLength="100.0" lengthAdjust="spacing" style="fill:#000">2 of 3</text>
<text x="2006.3" y="3214.9" font-size="51" textLength="309.3" lengthAdjust="spacing" style="fill:#3c3839;stroke:#3c3839;stroke-width:.7px">www.shike.tw</text>
<path d="M2037.70,2942.00h65.52v9.05h-65.52zM2131.30,2942.00h9.36v9.05h-9.36zM2178.10,2942.00h9.36v9.05h-9.36zM2206.18,2942.00h65.52v9.05h-65.52zM2037.70,2951.05h9.36v9.05h-9.36zM2093.86,2951.05h9.36v9.05h-9.36zM2121.94,2951.05h9.36v9.05h-9.36zM2159.38,2951.05h28.08v9.05h-28.08zM2206.18,2951.05h9.36v9.05h-9.36zM2262.34,2951.05h9.36v9.05h-9.36zM2037.70,2960.10h9.36v9.05h-9.36zM2056.42,2960.10h28.08v9.05h-28.08zM2093.86,2960.10h9.36v9.05h-9.36zM2112.58,2960.10h9.36v9.05h-9.36zM2140.66,2960.10h9.36v9.05h-9.36zM2168.74,2960.10h18.72v9.05h-18.72zM2206.18,2960.10h9.36v9.05h-9.36zM2224.90,2960.10h28.08v9.05h-28.08zM2262.34,2960.10h9.36v9.05h-9.36zM2037.70,2969.15h9.36v9.05h-9.36zM2056.42,2969.15h28.08v9.05h-28.08zM2093.86,2969.15h9.36v9.05h-9.36zM2121.94,2969.15h9.36v9.05h-9.36zM2150.02,2969.15h9.36v9.05h-9.36zM2168.74,2969.15h9.36v9.05h-9.36zM2206.18,2969.15h9.36v9.05h-9.36zM2224.90,2969.15h28.08v9.05h-28.08zM2262.34,2969.15h9.36v9.05h-9.36zM2037.70,2978.20h9.36v9.05h-9.36zM2056.42,2978.20h28.08v9.05h-28.08zM2093.86,2978.20h9.36v9.05h-9.36zM2121.94,2978.20h9.36v9.05h-9.36zM2150.02,2978.20h9.36v9.05h-9.36zM2178.10,2978.20h18.72v9.05h-18.72zM2206.18,2978.20h9.36v9.05h-9.36zM2224.90,2978.20h28.08v9.05h-28.08zM2262.34,2978.20h9.36v9.05h-9.36zM2037.70,2987.25h9.36v9.05h-9.36zM2093.86,2987.25h9.36v9.05h-9.36zM2131.30,2987.25h28.08v9.05h-28.08zM2168.74,2987.25h28.08v9.05h-28.08zM2206.18,2987.25h9.36v9.05h-9.36zM2262.34,2987.25h9.36v9.05h-9.36zM2037.70,2996.30h65.52v9.05h-65.52zM2112.58,2996.30h9.36v9.05h-9.36zM2131.30,2996.30h9.36v9.05h-9.36zM2150.02,2996.30h9.36v9.05h-9.36zM2168.74,2996.30h9.36v9.05h-9.36zM2187.46,2996.30h9.36v9.05h-9.36zM2206.18,2996.30h65.52v9.05h-65.52zM2112.58,3005.35h9.36v9.05h-9.36zM2140.66,3005.35h9.36v9.05h-9.36zM2159.38,3005.35h37.44v9.05h-37.44zM2037.70,3014.40h28.08v9.05h-28.08zM2075.14,3014.40h46.80v9.05h-46.80zM2150.02,3014.40h28.08v9.05h-28.08zM2187.46,3014.40h28.08v9.05h-28.08zM2243.62,3014.40h9.36v9.05h-9.36zM2037.70,3023.45h9.36v9.05h-9.36zM2056.42,3023.45h37.44v9.05h-37.44zM2103.22,3023.45h9.36v9.05h-9.36zM2121.94,3023.45h9.36v9.05h-9.36zM2140.66,3023.45h18.72v9.05h-18.72zM2187.46,3023.45h9.36v9.05h-9.36zM2206.18,3023.45h9.36v9.05h-9.36zM2262.34,3023.45h9.36v9.05h-9.36zM2047.06,3032.50h28.08v9.05h-28.08zM2093.86,3032.50h9.36v9.05h-9.36zM2112.58,3032.50h9.36v9.05h-9.36zM2131.30,3032.50h37.44v9.05h-37.44zM2196.82,3032.50h28.08v9.05h-28.08zM2243.62,3032.50h28.08v9.05h-28.08zM2037.70,3041.55h18.72v9.05h-18.72zM2075.14,3041.55h18.72v9.05h-18.72zM2103.22,3041.55h9.36v9.05h-9.36zM2121.94,3041.55h18.72v9.05h-18.72zM2150.02,3041.55h28.08v9.05h-28.08zM2206.18,3041.55h9.36v9.05h-9.36zM2252.98,3041.55h9.36v9.05h-9.36zM2037.70,3050.60h18.72v9.05h-18.72zM2075.14,3050.60h37.44v9.05h-37.44zM2131.30,3050.60h18.72v9.05h-18.72zM2168.74,3050.60h28.08v9.05h-28.08zM2206.18,3050.60h18.72v9.05h-18.72zM2234.26,3050.60h9.36v9.05h-9.36zM2252.98,3050.60h18.72v9.05h-18.72zM2065.78,3059.65h28.08v9.05h-28.08zM2103.22,3059.65h9.36v9.05h-9.36zM2121.94,3059.65h28.08v9.05h-28.08zM2187.46,3059.65h28.08v9.05h-28.08zM2234.26,3059.65h9.36v9.05h-9.36zM2262.34,3059.65h9.36v9.05h-9.36zM2037.70,3068.70h9.36v9.05h-9.36zM2056.42,3068.70h9.36v9.05h-9.36zM2093.86,3068.70h18.72v9.05h-18.72zM2121.94,3068.70h9.36v9.05h-9.36zM2159.38,3068.70h9.36v9.05h-9.36zM2196.82,3068.70h9.36v9.05h-9.36zM2215.54,3068.70h9.36v9.05h-9.36zM2243.62,3068.70h28.08v9.05h-28.08zM2047.06,3077.75h18.72v9.05h-18.72zM2075.14,3077.75h18.72v9.05h-18.72zM2103.22,3077.75h9.36v9.05h-9.36zM2131.30,3077.75h18.72v9.05h-18.72zM2178.10,3077.75h9.36v9.05h-9.36zM2196.82,3077.75h18.72v9.05h-18.72zM2234.26,3077.75h9.36v9.05h-9.36zM2252.98,3077.75h9.36v9.05h-9.36zM2037.70,3086.80h9.36v9.05h-9.36zM2056.42,3086.80h9.36v9.05h-9.36zM2075.14,3086.80h56.16v9.05h-56.16zM2150.02,3086.80h9.36v9.05h-9.36zM2178.10,3086.80h65.52v9.05h-65.52zM2112.58,3095.85h18.72v9.05h-18.72zM2140.66,3095.85h28.08v9.05h-28.08zM2178.10,3095.85h18.72v9.05h-18.72zM2224.90,3095.85h46.80v9.05h-46.80zM2037.70,3104.90h65.52v9.05h-65.52zM2112.58,3104.90h46.80v9.05h-46.80zM2168.74,3104.90h28.08v9.05h-28.08zM2206.18,3104.90h9.36v9.05h-9.36zM2224.90,3104.90h9.36v9.05h-9.36zM2252.98,3104.90h18.72v9.05h-18.72zM2037.70,3113.95h9.36v9.05h-9.36zM2093.86,3113.95h9.36v9.05h-9.36zM2112.58,3113.95h18.72v9.05h-18.72zM2150.02,3113.95h28.08v9.05h-28.08zM2187.46,3113.95h9.36v9.05h-9.36zM2224.90,3113.95h18.72v9.05h-18.72zM2252.98,3113.95h9.36v9.05h-9.36zM2037.70,3123.00h9.36v9.05h-9.36zM2056.42,3123.00h28.08v9.05h-28.08zM2093.86,3123.00h9.36v9.05h-9.36zM2112.58,3123.00h9.36v9.05h-9.36zM2131.30,3123.00h18.72v9.05h-18.72zM2168.74,3123.00h9.36v9.05h-9.36zM2187.46,3123.00h46.80v9.05h-46.80zM2252.98,3123.00h18.72v9.05h-18.72zM2037.70,3132.05h9.36v9.05h-9.36zM2056.42,3132.05h28.08v9.05h-28.08zM2093.86,3132.05h9.36v9.05h-9.36zM2121.94,3132.05h9.36v9.05h-9.36zM2140.66,3132.05h9.36v9.05h-9.36zM2168.74,3132.05h18.72v9.05h-18.72zM2224.90,3132.05h9.36v9.05h-9.36zM2243.62,3132.05h9.36v9.05h-9.36zM2037.70,3141.10h9.36v9.05h-9.36zM2056.42,3141.10h28.08v9.05h-28.08zM2093.86,3141.10h9.36v9.05h-9.36zM2112.58,3141.10h9.36v9.05h-9.36zM2159.38,3141.10h9.36v9.05h-9.36zM2196.82,3141.10h9.36v9.05h-9.36zM2215.54,3141.10h28.08v9.05h-28.08zM2262.34,3141.10h9.36v9.05h-9.36zM2037.70,3150.15h9.36v9.05h-9.36zM2093.86,3150.15h9.36v9.05h-9.36zM2112.58,3150.15h9.36v9.05h-9.36zM2140.66,3150.15h9.36v9.05h-9.36zM2178.10,3150.15h28.08v9.05h-28.08zM2224.90,3150.15h18.72v9.05h-18.72zM2252.98,3150.15h9.36v9.05h-9.36zM2037.70,3159.20h65.52v9.05h-65.52zM2112.58,3159.20h9.36v9.05h-9.36zM2131.30,3159.20h9.36v9.05h-9.36zM2150.02,3159.20h9.36v9.05h-9.36zM2178.10,3159.20h28.08v9.05h-28.08zM2215.54,3159.20h9.36v9.05h-9.36zM2252.98,3159.20h18.72v9.05h-18.72z" fill="#000" stroke="#000" stroke-width="0.4"/>
</svg></body></html>
